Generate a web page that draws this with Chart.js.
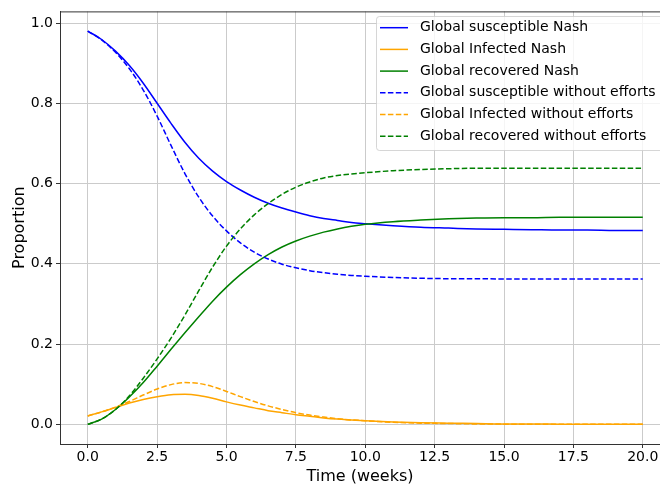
<!DOCTYPE html>
<html>
<head>
<meta charset="utf-8">
<script src="https://cdn.jsdelivr.net/npm/chart.js@4/dist/chart.umd.min.js"></script>
<style>
  html, body { margin: 0; padding: 0; background: #fff; }
  #wrap { width: 660px; height: 487px; overflow: hidden; }
</style>
</head>
<body>
<div id="wrap"><canvas id="sir" width="660" height="487"></canvas></div>
<script>
// time axis (weeks)
const weeks = [0, 0.5, 1, 1.5, 2, 2.5, 3, 3.5, 4, 4.5, 5, 5.5, 6, 6.5, 7, 7.5, 8, 8.5, 9, 9.5, 10,
  11, 12, 13, 14, 15, 16, 17, 18, 19, 20];

// Nash equilibrium run
const susceptibleNash = [0.980, 0.959, 0.930, 0.894, 0.850, 0.800, 0.750, 0.703, 0.663, 0.631, 0.605,
  0.584, 0.566, 0.551, 0.539, 0.529, 0.520, 0.513, 0.508, 0.503, 0.500,
  0.495, 0.491, 0.489, 0.487, 0.486, 0.485, 0.484, 0.484, 0.483, 0.483];
const infectedNash = [0.021, 0.031, 0.042, 0.053, 0.062, 0.069, 0.074, 0.075, 0.072, 0.065, 0.056,
  0.048, 0.041, 0.034, 0.029, 0.024, 0.020, 0.016, 0.013, 0.011, 0.009,
  0.006, 0.004, 0.003, 0.002, 0.001, 0.001, 0.0005, 0.0003, 0.0002, 0.0001];
const recoveredNash = [0.000, 0.013, 0.037, 0.068, 0.104, 0.145, 0.187, 0.228, 0.268, 0.307, 0.342,
  0.373, 0.400, 0.423, 0.442, 0.457, 0.469, 0.479, 0.487, 0.4935, 0.4985,
  0.505, 0.509, 0.512, 0.514, 0.515, 0.515, 0.516, 0.516, 0.516, 0.516];

// no-effort run
const susceptibleNoEffort = [0.980, 0.958, 0.927, 0.886, 0.833, 0.768, 0.695, 0.625, 0.566, 0.519, 0.482,
  0.452, 0.429, 0.412, 0.399, 0.390, 0.383, 0.378, 0.374, 0.371, 0.369,
  0.366, 0.364, 0.363, 0.363, 0.362, 0.362, 0.362, 0.362, 0.362, 0.362];
const infectedNoEffort = [0.021, 0.031, 0.043, 0.057, 0.073, 0.088, 0.099, 0.104, 0.102, 0.094, 0.082,
  0.069, 0.057, 0.046, 0.037, 0.029, 0.023, 0.018, 0.014, 0.011, 0.009,
  0.005, 0.003, 0.002, 0.001, 0.0005, 0.0003, 0.0002, 0.0001, 0.0001, 0.0001];
const recoveredNoEffort = [0.000, 0.013, 0.037, 0.071, 0.115, 0.163, 0.215, 0.272, 0.333, 0.392, 0.444,
  0.487, 0.522, 0.550, 0.573, 0.591, 0.604, 0.614, 0.620, 0.624, 0.627,
  0.632, 0.635, 0.637, 0.638, 0.638, 0.638, 0.638, 0.638, 0.638, 0.638];

const xTicks = [0, 2.5, 5, 7.5, 10, 12.5, 15, 17.5, 20];
const yTicks = [0, 0.2, 0.4, 0.6, 0.8, 1.0];

const FONT = 'DejaVu Sans';
const DASH = [5.5, 2.4];

function series(label, values, color, dashed, idx) {
  return {
    label,
    data: weeks.map((t, i) => ({ x: t, y: values[i] })),
    borderColor: color,
    borderWidth: 1.5,
    borderDash: dashed ? DASH : [],
    pointRadius: 0,
    fill: false,
    cubicInterpolationMode: 'monotone',
    order: 6 - idx,
  };
}

const datasets = [
  series('Global susceptible Nash', susceptibleNash, '#0000ff', false, 0),
  series('Global Infected Nash', infectedNash, '#ffa500', false, 1),
  series('Global recovered Nash', recoveredNash, '#008000', false, 2),
  series('Global susceptible without efforts', susceptibleNoEffort, '#0000ff', true, 3),
  series('Global Infected without efforts', infectedNoEffort, '#ffa500', true, 4),
  series('Global recovered without efforts', recoveredNoEffort, '#008000', true, 5),
];

// top spine + legend box in the upper right
const frameAndLegend = {
  id: 'frameAndLegend',
  afterDraw(chart) {
    const { ctx, chartArea } = chart;
    ctx.save();
    ctx.strokeStyle = '#333';
    ctx.lineWidth = 1;
    ctx.beginPath();
    ctx.moveTo(chartArea.left, chartArea.top + 0.5);
    ctx.lineTo(chartArea.right, chartArea.top + 0.5);
    ctx.stroke();

    const bx = 376, by = 16, bw = 300, bh = 134, r = 3;
    ctx.beginPath();
    ctx.roundRect(bx + 0.5, by + 0.5, bw, bh, r);
    ctx.fillStyle = 'rgba(255,255,255,0.8)';
    ctx.fill();
    ctx.strokeStyle = 'rgba(204,204,204,0.8)';
    ctx.stroke();

    ctx.font = '14px ' + FONT;
    ctx.textBaseline = 'middle';
    ctx.textAlign = 'left';
    chart.data.datasets.forEach((ds, i) => {
      const y = 27.7 + i * 21.7;
      ctx.beginPath();
      ctx.setLineDash(ds.borderDash);
      ctx.strokeStyle = ds.borderColor;
      ctx.lineWidth = ds.borderWidth;
      ctx.moveTo(380, y);
      ctx.lineTo(408, y);
      ctx.stroke();
      ctx.setLineDash([]);
      ctx.fillStyle = '#000';
      ctx.fillText(ds.label, 420, y);
    });
    ctx.restore();
  },
};

new Chart(document.getElementById('sir'), {
  type: 'line',
  data: { datasets },
  options: {
    responsive: false,
    animation: false,
    events: [],
    layout: { padding: { top: 9, right: 0, bottom: 0, left: 0 } },
    plugins: { legend: { display: false }, tooltip: { enabled: false } },
    scales: {
      x: {
        type: 'linear',
        min: -1,
        max: 20.62,
        afterBuildTicks: (scale) => { scale.ticks = xTicks.map((v) => ({ value: v })); },
        afterFit: (scale) => { scale.height = 43; },
        grid: { color: '#cbcbcb', lineWidth: 1, tickLength: 4, tickColor: '#333' },
        border: { display: true, color: '#333', width: 1 },
        ticks: {
          padding: 1,
          color: '#000',
          font: { family: FONT, size: 14 },
          maxRotation: 0,
          callback: (v) => Number(v).toFixed(1),
        },
        title: {
          display: true,
          text: 'Time (weeks)',
          color: '#000',
          font: { family: FONT, size: 16 },
          padding: { top: 0, bottom: 0.5 },
        },
      },
      y: {
        type: 'linear',
        min: -0.049,
        max: 1.029,
        afterBuildTicks: (scale) => { scale.ticks = yTicks.map((v) => ({ value: v })); },
        afterFit: (scale) => { scale.width = 60; },
        grid: { color: '#cbcbcb', lineWidth: 1, tickLength: 4, tickColor: '#333' },
        border: { display: true, color: '#333', width: 1 },
        ticks: {
          padding: 3,
          color: '#000',
          font: { family: FONT, size: 14 },
          callback: (v) => Number(v).toFixed(1),
        },
        title: {
          display: true,
          text: 'Proportion',
          color: '#000',
          font: { family: FONT, size: 16 },
          padding: { top: 10, bottom: 0 },
        },
      },
    },
  },
  plugins: [frameAndLegend],
});
</script>
</body>
</html>
